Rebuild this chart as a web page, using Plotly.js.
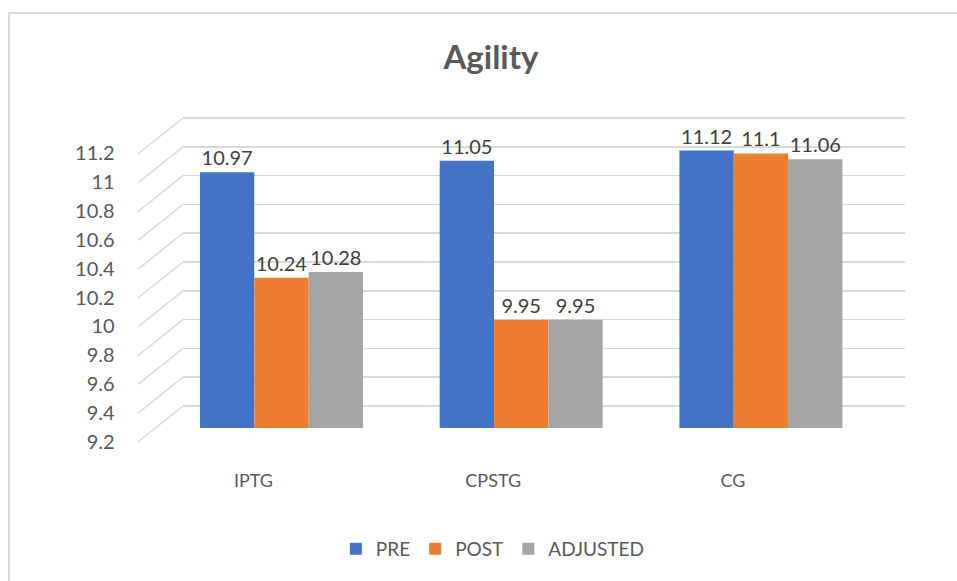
<!DOCTYPE html>
<html>
<head>
<meta charset="utf-8">
<script src="https://cdn.plot.ly/plotly-3.0.1.min.js"></script>
<style>html,body{margin:0;padding:0;background:#fff;}#chart{width:957px;height:581px;}</style>
</head>
<body>
<div id="chart"></div>
<script>
// ---- data ----
var categories = ["IPTG", "CPSTG", "CG"];
var seriesNames = ["PRE", "POST", "ADJUSTED"];
var preValues = [10.97, 11.05, 11.12];
var postValues = [10.24, 9.95, 11.1];
var adjustedValues = [10.28, 9.95, 11.06];
var yTickVals = [9.2, 9.4, 9.6, 9.8, 10, 10.2, 10.4, 10.6, 10.8, 11, 11.2];
var yTickText = ["9.2", "9.4", "9.6", "9.8", "10", "10.2", "10.4", "10.6", "10.8", "11", "11.2"];

// ---- styling ----
var W = 957, H = 581;
function px(x) { return x / W; }
function py(y) { return 1 - y / H; }
var FONT = "Lato, 'Open Sans', sans-serif";
var colors = ["#4472C4", "#ED7D31", "#A5A5A5"];
var allValues = [preValues, postValues, adjustedValues];

var traces = [];
// invisible trace to hold the back-wall grid subplot
traces.push({x: [], y: [], type: "scatter", mode: "markers", xaxis: "x", yaxis: "y", showlegend: false, hoverinfo: "skip"});
for (var i = 0; i < seriesNames.length; i++) {
  traces.push({
    type: "bar",
    name: seriesNames[i],
    x: categories,
    y: allValues[i],
    text: allValues[i].map(String),
    textposition: "outside",
    textfont: {family: FONT, size: 20, color: "#404040"},
    cliponaxis: false,
    marker: {color: colors[i]},
    xaxis: "x2",
    yaxis: "y2",
    hoverinfo: "skip"
  });
}

// slanted (perspective) gridline segments, one per tick
var shapes = [];
yTickVals.forEach(function (v) {
  shapes.push({
    type: "line", xref: "paper", yref: "y", layer: "below",
    x0: px(138), y0: v - 0.25, x1: px(183), y1: v,
    line: {color: "#d9d9d9", width: 1.5}
  });
});
// chart border
shapes.push({type: "rect", xref: "paper", yref: "paper", x0: px(9), y0: py(13), x1: 1.05, y1: -0.05,
  line: {color: "#d9d9d9", width: 2}, fillcolor: "rgba(0,0,0,0)", layer: "below"});

var layout = {
  width: W, height: H,
  margin: {l: 0, r: 0, t: 0, b: 0},
  paper_bgcolor: "#ffffff",
  plot_bgcolor: "rgba(0,0,0,0)",
  font: {family: FONT, color: "#595959"},
  title: {text: "<b>Agility</b>", x: 0.513, xanchor: "center", y: py(57), yanchor: "middle",
          font: {family: FONT, size: 33, color: "#595959"}},
  barmode: "group",
  bargap: 0.32,
  bargroupgap: 0,
  showlegend: true,
  legend: {orientation: "h", x: 0.515, xanchor: "center", y: py(549), yanchor: "middle",
           font: {family: FONT, size: 19, color: "#595959"}, traceorder: "normal"},
  // back wall grid
  xaxis: {domain: [px(183), px(905)], range: [0, 1], visible: false, fixedrange: true},
  yaxis: {domain: [py(463.6), py(60.4)], range: [8.8, 11.6], tickvals: yTickVals, showticklabels: false,
          showgrid: true, gridcolor: "#d9d9d9", gridwidth: 1.5, zeroline: false, showline: false,
          ticks: "", fixedrange: true},
  // bars
  xaxis2: {domain: [px(161.6), px(880.8)], anchor: "y2", type: "category", range: [-0.5, 2.5],
           showgrid: false, zeroline: false, showline: false, ticks: "",
           tickfont: {family: FONT, size: 18, color: "#595959"},
           ticklabelstandoff: 40, ticklabelshift: -28},
  yaxis2: {domain: [py(428), py(139)], anchor: "x2", range: [9.2, 11.2], tickvals: yTickVals, ticktext: yTickText,
           showgrid: false, zeroline: false, showline: false, ticks: "",
           tickfont: {family: FONT, size: 20, color: "#595959"},
           ticklabelstandoff: 46, ticklabelshift: 14},
  shapes: shapes
};

Plotly.newPlot("chart", traces, layout, {displayModeBar: false, staticPlot: true});
</script>
</body>
</html>
